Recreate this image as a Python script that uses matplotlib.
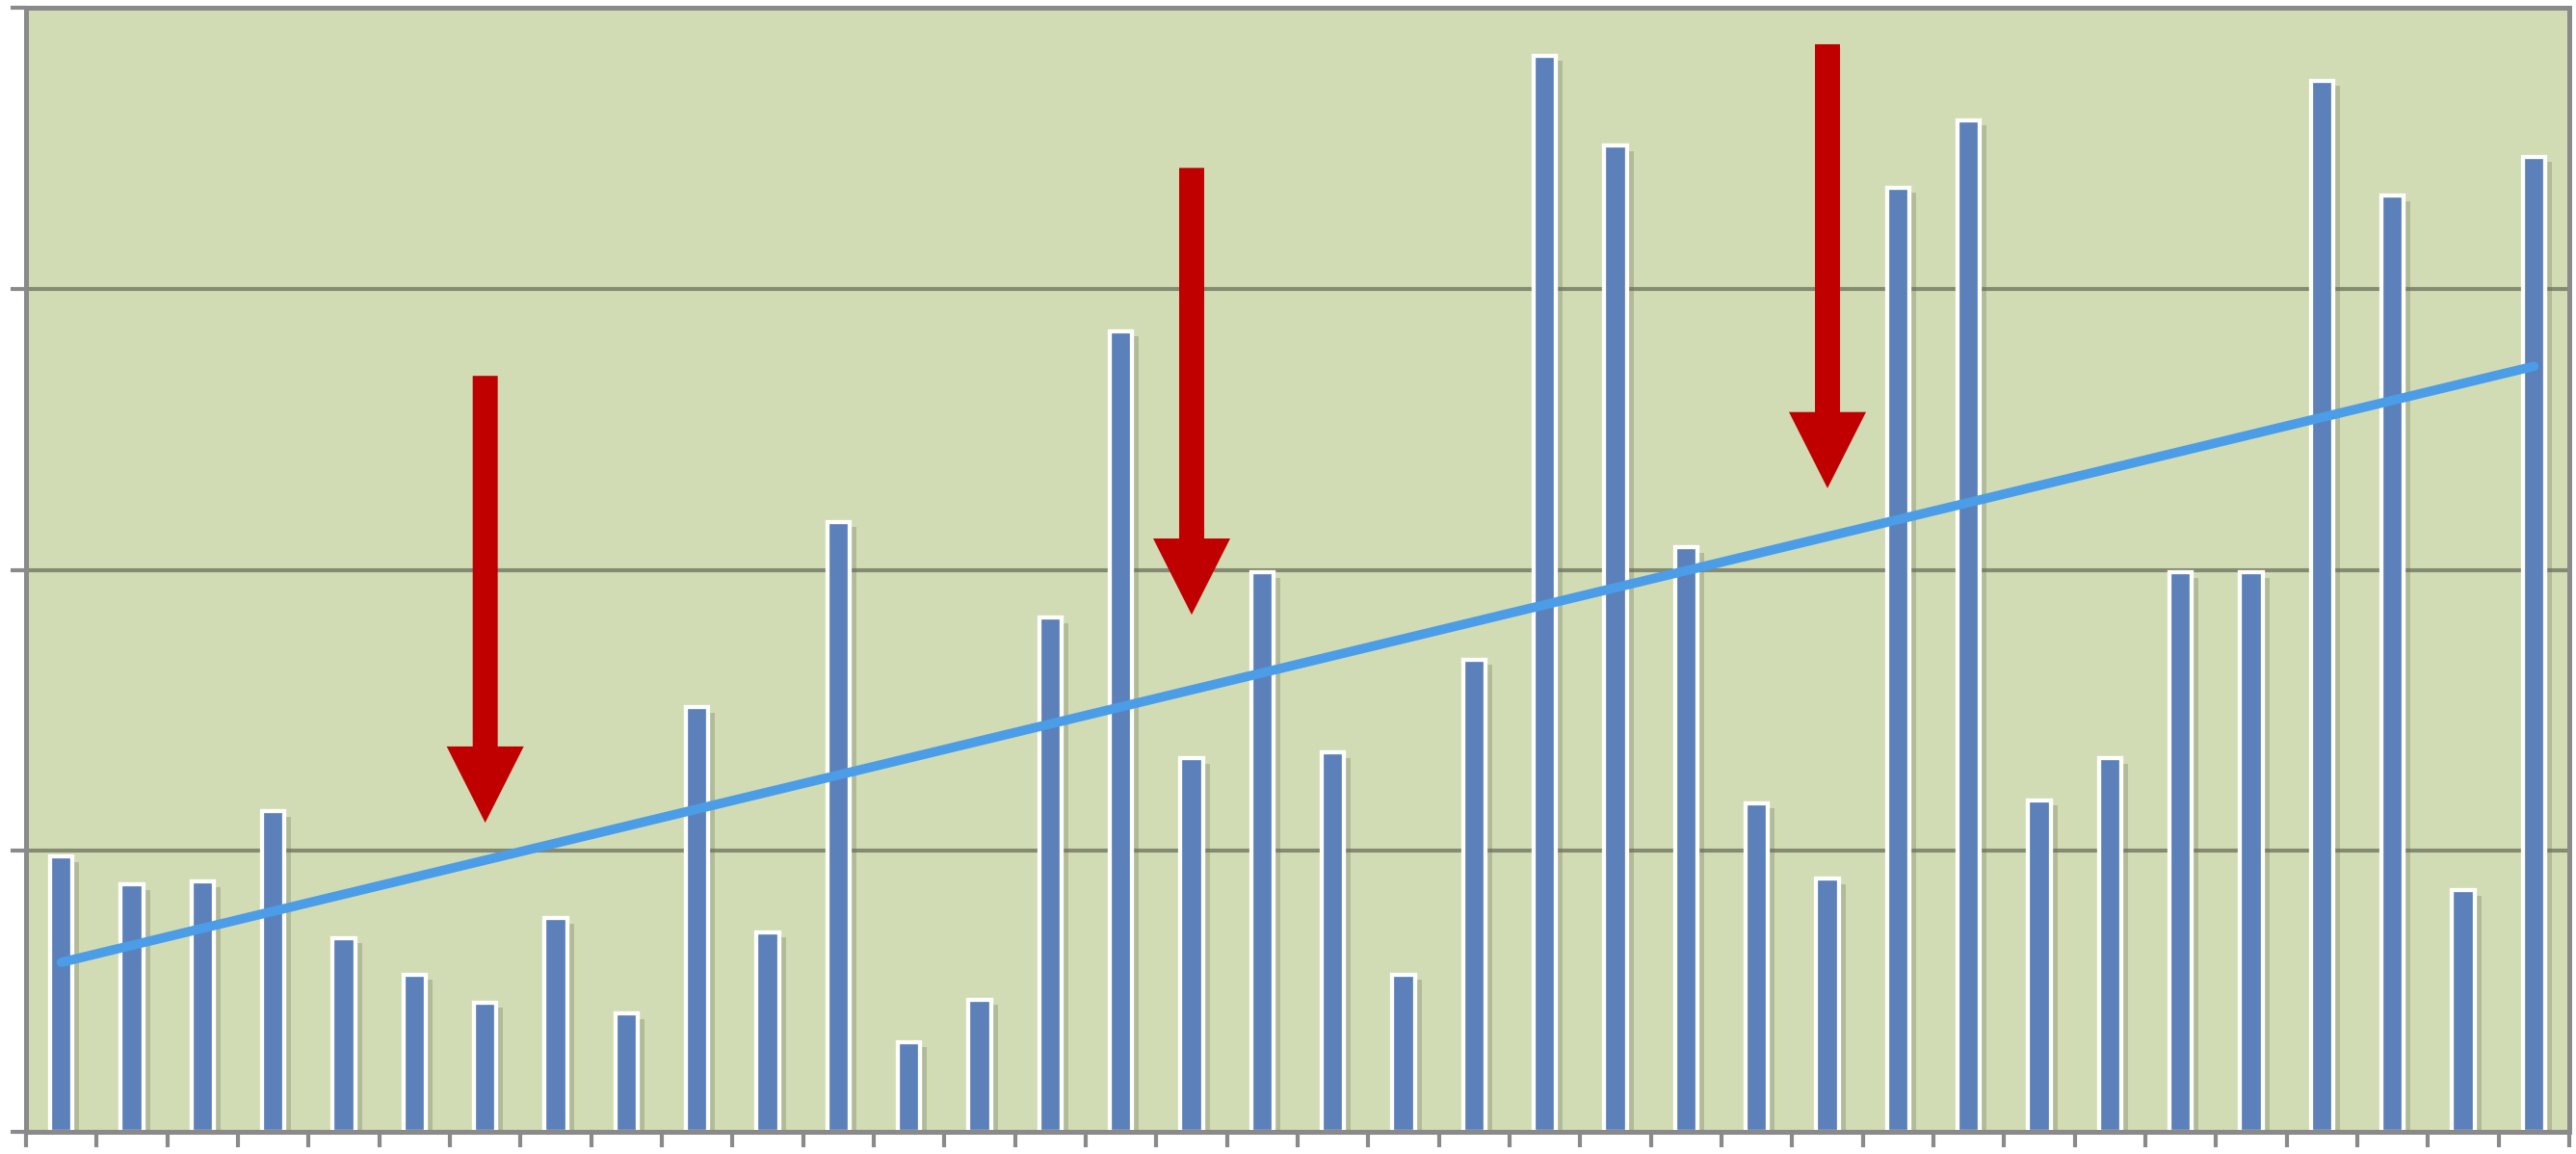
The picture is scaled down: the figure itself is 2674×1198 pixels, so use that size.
import numpy as np
import matplotlib
matplotlib.use("Agg")
import matplotlib.pyplot as plt
import matplotlib.patheffects as pe
from matplotlib.patches import FancyArrowPatch

# bar heights, one per period
values = [0.98, 0.88, 0.89, 1.14, 0.69, 0.56, 0.46, 0.76, 0.42, 1.51,
          0.71, 2.17, 0.32, 0.47, 1.83, 2.85, 1.33, 1.99, 1.35, 0.56,
          1.68, 3.83, 3.51, 2.08, 1.17, 0.90, 3.36, 3.60, 1.18, 1.33,
          1.99, 1.99, 3.74, 3.33, 0.86, 3.47]

# highlighted periods: position, arrow top, arrow tip
arrow_x = [6, 16, 25]
arrow_top = [2.69, 3.43, 3.87]
arrow_tip = [1.10, 1.84, 2.29]

x = np.arange(len(values))
slope, intercept = np.polyfit(x, values, 1)

fig = plt.figure(figsize=(26.74, 11.98), dpi=100)
ax = fig.add_axes([27 / 2674, 23 / 1198, 2640 / 2674, 1167 / 1198])
ax.set_facecolor("#d2dcb4")

ax.set_xlim(-0.5, len(values) - 0.5)
ax.set_ylim(0, 4)

ax.set_yticks([0, 1, 2, 3, 4])
ax.set_xticks(np.arange(-0.5, len(values), 1))
ax.set_xticklabels([])
ax.set_yticklabels([])
ax.grid(axis="y", color="#858a72", linewidth=3, zorder=0)
ax.set_axisbelow(True)
ax.tick_params(axis="both", direction="out", length=11.5, width=3, color="#8a8a8a")

for side in ["left", "bottom", "right", "top"]:
    ax.spines[side].set_color("#8a8a8a")
    ax.spines[side].set_linewidth(3.6)

bars = ax.bar(x, values, width=0.32, color="#5b80ba", edgecolor="white",
              linewidth=3.1, zorder=2)
for b in bars:
    b.set_path_effects([pe.SimplePatchShadow(offset=(5, -4), shadow_rgbFace="#6b6f5a", alpha=0.3),
                        pe.Normal()])

ax.plot(x, intercept + slope * x, color="#4b9de8", linewidth=7,
        solid_capstyle="round", zorder=3)

for xa, top, tip in zip(arrow_x, arrow_top, arrow_tip):
    arr = FancyArrowPatch((xa, top), (xa, tip),
                          arrowstyle="simple,head_length=57,head_width=57.6,tail_width=18.7",
                          mutation_scale=1, shrinkA=0, shrinkB=0,
                          color="#c00000", linewidth=0, zorder=4)
    ax.add_patch(arr)

fig.savefig("out.png", dpi=100, facecolor="white")
